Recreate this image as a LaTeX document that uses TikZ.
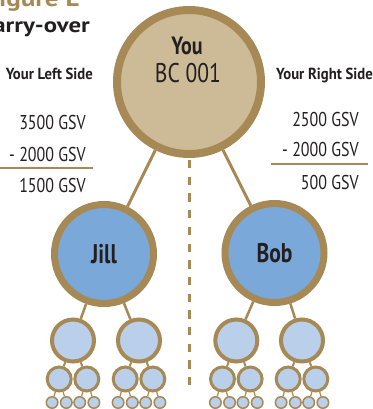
\documentclass[tikz,border=0pt]{standalone}
\usepackage{fontspec}
\setmainfont{PT Sans}
\newfontfamily\condfont[FakeStretch=0.8]{PT Sans}
\newfontfamily\headfont[FakeStretch=0.92]{PT Sans}
\newfontfamily\widefont[FakeStretch=1.18]{PT Sans}
\definecolor{gold}{RGB}{166,137,84}
\definecolor{tan}{RGB}{205,187,151}
\definecolor{midblue}{RGB}{122,169,217}
\definecolor{paleblue}{RGB}{186,207,234}
\definecolor{ink}{RGB}{35,31,32}
\tikzset{
    member/.style={circle,draw=gold,inner sep=0pt,text=ink},
    toptier/.style={member,fill=tan,line width=8pt,minimum size=144pt},
    sidetier/.style={member,fill=midblue,line width=7pt,minimum size=99pt,
        font=\condfont\bfseries\fontsize{27}{27}\selectfont},
    kidtier/.style={member,fill=paleblue,line width=4pt,minimum size=42pt},
    grandtier/.style={member,fill=paleblue,line width=3pt,minimum size=24pt},
    tinytier/.style={member,fill=paleblue,line width=1.5pt,minimum size=11.5pt},
    sumtext/.style={anchor=base east,inner sep=0pt,text=ink,font=\condfont\fontsize{20}{20}\selectfont},
    headtext/.style={inner sep=0pt,text=ink,font=\headfont\bfseries\fontsize{16}{16}\selectfont}
}
\begin{document}
\begin{tikzpicture}[x=1pt,y=-1pt]
    \useasboundingbox (0,0) rectangle (372,409);

    % Title
    \node[anchor=base east,inner sep=0pt,text=gold,font=\widefont\bfseries\fontsize{23}{23}\selectfont] (figtitle) at (80,7) {Figure E};
    \node[anchor=base east,inner sep=0pt,text=ink,font=\widefont\bfseries\fontsize{21}{21}\selectfont] (carry) at (90,33) {Carry-over};

    % You and the two legs
    \node[toptier] (you) at (189,82) {};
    \node[anchor=base,inner sep=0pt,text=ink,font=\condfont\bfseries\fontsize{25}{25}\selectfont] (youname) at (187,55) {You};
    \node[anchor=base,inner sep=0pt,text=ink,font=\condfont\fontsize{27}{27}\selectfont] (youid) at (188,83) {BC 001};
    \node[sidetier] (jill) at (104,254) {Jill};
    \node[sidetier] (bob) at (274.5,253) {Bob};
    \draw[gold,line width=3pt] (you) -- (jill);
    \draw[gold,line width=3pt] (you) -- (bob);

    % Dividing line
    \coordinate (divend) at (189,393);
    \draw[gold,line width=3pt,dash pattern=on 8.3pt off 8.4pt] (189,160) -- (divend);

    % Left side sums
    \node[headtext,anchor=base east] (lefthead) at (93,80) {Your Left Side};
    \node[sumtext] (leftone) at (86,129) {3500 GSV};
    \node[sumtext] (lefttwo) at (86,161) {- 2000 GSV};
    \node[sumtext] (leftres) at (86,192) {1500 GSV};
    \draw[gold,line width=1.5pt] (0,168) -- (93,168);

    % Right side sums
    \node[headtext,anchor=base west] (righthead) at (276,80) {Your Right Side};
    \node[sumtext] (rightone) at (359,126) {2500 GSV};
    \node[sumtext] (righttwo) at (359,156) {- 2000 GSV};
    \node[sumtext] (rightres) at (359,189) {500 GSV};
    \draw[gold,line width=1.5pt] (271,164) -- (368,164);

    % Lower levels
    \foreach \n/\x/\p in {a/73/jill, b/139/jill, c/236.3/bob, d/302/bob} {
        \node[kidtier] (\n) at (\x,340.5) {};
        \draw[gold,line width=2.5pt] (\p) -- (\n);
        \foreach \q/\dx in {1/-13.8, 2/13.8} {
            \node[grandtier] (\n\q) at (\x+\dx,379) {};
            \draw[gold,line width=2pt] (\n) -- (\n\q);
            \node[tinytier] (\n\q-l) at (\x+\dx-7.1,402.5) {};
            \node[tinytier] (\n\q-r) at (\x+\dx+7.1,402.5) {};
            \draw[gold,line width=1.2pt] (\n\q) -- (\n\q-l) (\n\q) -- (\n\q-r);
        }
    }
\end{tikzpicture}
\end{document}
